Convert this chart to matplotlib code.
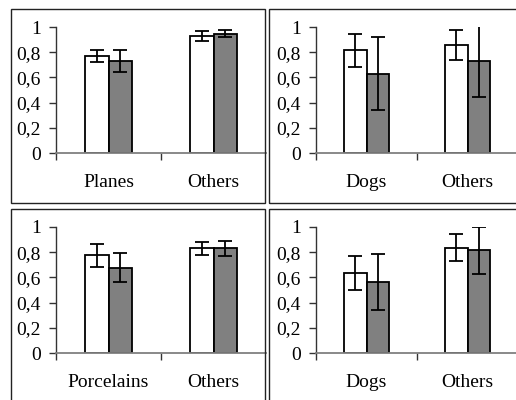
import matplotlib.pyplot as plt
from matplotlib.patches import Rectangle

plt.rcParams['font.family'] = ['Liberation Serif', 'DejaVu Serif']

# panel data: categories, white bar values/errors, gray bar values/errors
cats_1 = ["Planes", "Others"]
white_1 = [0.77, 0.93]
white_err_1 = [0.045, 0.04]
gray_1 = [0.73, 0.945]
gray_err_1 = [0.085, 0.028]

cats_2 = ["Dogs", "Others"]
white_2 = [0.815, 0.86]
white_err_2 = [0.13, 0.12]
gray_2 = [0.63, 0.73]
gray_err_2 = [0.29, 0.285]

cats_3 = ["Porcelains", "Others"]
white_3 = [0.775, 0.83]
white_err_3 = [0.093, 0.05]
gray_3 = [0.675, 0.83]
gray_err_3 = [0.115, 0.058]

cats_4 = ["Dogs", "Others"]
white_4 = [0.635, 0.835]
white_err_4 = [0.133, 0.108]
gray_4 = [0.565, 0.815]
gray_err_4 = [0.22, 0.185]

y_ticks = [0, 0.2, 0.4, 0.6, 0.8, 1]
y_labels = ["0", "0,2", "0,4", "0,6", "0,8", "1"]

W, H = 516, 400
fig = plt.figure(figsize=(W / 100, H / 100), dpi=100)


def px_box(x0, y0, x1, y1):
    # pixel coords (top-left origin) -> figure fraction rect
    return [x0 / W, 1 - y1 / H, (x1 - x0) / W, (y1 - y0) / H]


# panel frames
for (x0, y0, x1, y1) in [(11, 9, 265, 203), (269, 9, 522, 203),
                         (11, 209, 265, 403), (269, 209, 522, 403)]:
    r = Rectangle((x0 / W, 1 - y1 / H), (x1 - x0) / W, (y1 - y0) / H,
                  transform=fig.transFigure, fill=False, edgecolor='#222222',
                  linewidth=1.0)
    fig.patches.append(r)

panels = [
    (px_box(56, 27, 266, 153), cats_1, white_1, white_err_1, gray_1, gray_err_1),
    (px_box(316, 27, 518, 153), cats_2, white_2, white_err_2, gray_2, gray_err_2),
    (px_box(56, 227, 266, 353), cats_3, white_3, white_err_3, gray_3, gray_err_3),
    (px_box(316, 227, 518, 353), cats_4, white_4, white_err_4, gray_4, gray_err_4),
]

bw = 0.224
for rect, cats, wv, we, gv, ge in panels:
    ax = fig.add_axes(rect)
    ax.patch.set_visible(False)
    x = [i + 0.5 for i in range(len(cats))]
    ebar = dict(ecolor='black', elinewidth=1.3, capsize=5, capthick=1.3)
    ax.bar([xi - bw / 2 for xi in x], wv, bw, yerr=we, color='white',
           edgecolor='black', linewidth=1.3, error_kw=ebar)
    ax.bar([xi + bw / 2 for xi in x], gv, bw, yerr=ge, color='#808080',
           edgecolor='black', linewidth=1.3, error_kw=ebar)
    ax.set_xlim(0, 2)
    ax.set_ylim(0, 1)
    ax.spines['top'].set_visible(False)
    ax.spines['right'].set_visible(False)
    ax.spines['left'].set_color('#333333')
    ax.spines['bottom'].set_color('#808080')
    ax.spines['left'].set_linewidth(1.0)
    ax.spines['bottom'].set_linewidth(1.3)
    ax.set_yticks(y_ticks)
    ax.set_yticklabels(y_labels)
    ax.set_xticks([0, 1])
    ax.set_xticklabels([])
    ax.set_xticks(x, minor=True)
    ax.set_xticklabels(cats, minor=True)
    ax.tick_params(axis='x', which='minor', length=0, pad=15, labelsize=14)
    ax.tick_params(axis='x', which='major', length=5, width=1, color='#333333')
    ax.tick_params(axis='y', length=5, width=1, color='#333333', labelsize=14,
                   pad=6)

fig.savefig("out.png", dpi=100)
